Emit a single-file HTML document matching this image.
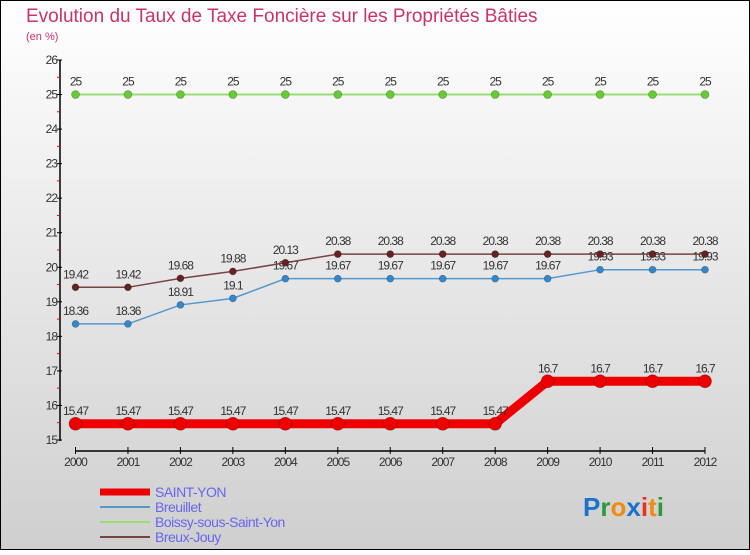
<!DOCTYPE html>
<html><head><meta charset="utf-8"><style>
body{margin:0;width:750px;height:550px;overflow:hidden;font-family:"Liberation Sans",sans-serif}
svg text{font-family:"Liberation Sans",sans-serif}
</style></head><body>
<svg id="c" width="750" height="550" xmlns="http://www.w3.org/2000/svg">
<defs><linearGradient id="bg" x1="0" y1="0" x2="0" y2="1"><stop offset="0" stop-color="#ffffff"/><stop offset="1" stop-color="#cfcfcf"/></linearGradient></defs>
<rect x="0.5" y="0.5" width="749" height="549" fill="url(#bg)" stroke="#000"/>
<text x="26" y="22" font-size="19" fill="#cc3366">Evolution du Taux de Taxe Foncière sur les Propriétés Bâties</text>
<text x="26" y="40" font-size="11" fill="#cc3366">(en %)</text>
<g id="axes"></g>
<g id="series"></g>
<g id="legend"></g>
<text x="583" y="516" font-size="26" font-weight="bold"><tspan fill="#1a73c9">P</tspan><tspan fill="#2a9a3a">r</tspan><tspan fill="#f08a10">o</tspan><tspan fill="#1a73c9">x</tspan><tspan fill="#e83020">i</tspan><tspan fill="#f08a10">t</tspan><tspan fill="#2a9a3a">i</tspan></text>
</svg>
<script>
const years=[2000,2001,2002,2003,2004,2005,2006,2007,2008,2009,2010,2011,2012];
const yTicks=[15,16,17,18,19,20,21,22,23,24,25,26];
const saintYon=[15.47,15.47,15.47,15.47,15.47,15.47,15.47,15.47,15.47,16.7,16.7,16.7,16.7];
const breuillet=[18.36,18.36,18.91,19.1,19.67,19.67,19.67,19.67,19.67,19.67,19.93,19.93,19.93];
const boissy=[25,25,25,25,25,25,25,25,25,25,25,25,25];
const breux=[19.42,19.42,19.68,19.88,20.13,20.38,20.38,20.38,20.38,20.38,20.38,20.38,20.38];
const NS="http://www.w3.org/2000/svg";
const xS=i=>75.5+i*(705-75.5)/(years.length-1);
const yS=v=>440-(v-15)*(440-60)/11;
function mk(tag,attrs,parent,txt){const e=document.createElementNS(NS,tag);for(const k in attrs)e.setAttribute(k,attrs[k]);if(txt!==undefined)e.textContent=txt;parent.appendChild(e);return e;}
const ax=document.getElementById('axes');
let e=mk('line',{x1:60,y1:60,x2:60,y2:441,stroke:'#000','stroke-width':1.5},ax);


yTicks.forEach(t=>{
 const y=yS(t);
 mk('line',{x1:57,y1:y,x2:62,y2:y,stroke:'#000'},ax);
 if(t<26) mk('line',{x1:57,y1:y-17.3,x2:60,y2:y-17.3,stroke:'#f00'},ax);
 e=mk('text',{x:57,y:y+4,'font-size':12,'text-anchor':'end',fill:'#333','letter-spacing':'-1'},ax,String(t));
 
 
});
e=mk('line',{x1:75.5,y1:451,x2:705,y2:451,stroke:'#000','stroke-width':1.5},ax);


years.forEach((yr,i)=>{
 const x=xS(i);
 mk('line',{x1:x,y1:447,x2:x,y2:454,stroke:'#000'},ax);
 e=mk('text',{x:x,y:466,'font-size':12,'text-anchor':'middle',fill:'#333','letter-spacing':'-1'},ax,String(yr));
 
 
});
const sg=document.getElementById('series');
function series(vals,color,lw,r,dot,name){
 const g=mk('g',{},sg);
 
 
 const p=mk('polyline',{points:vals.map((v,i)=>xS(i)+','+yS(v)).join(' '),fill:'none',stroke:color,'stroke-width':lw},g);
 
 
 vals.forEach((v,i)=>{
  const c=mk('circle',{cx:xS(i),cy:yS(v),r:r,fill:dot,stroke:'rgba(0,0,0,0.3)','stroke-width':0.7},g);
  
  
  const t=mk('text',{x:xS(i),y:yS(v)-9,'font-size':12,'text-anchor':'middle',fill:'#333','letter-spacing':'-1'},g,String(v));
  
  
 });
}
series(boissy,'#99dd77',2,4,'#66cc33','boissy');
series(breuillet,'#5599cc',1.5,3.5,'#3388cc','breuillet');
series(breux,'#774444',1.5,3.5,'#662222','breux-jouy');
series(saintYon,'#ee0000',9,6.5,'#ee0000','saint-yon');
const lg=document.getElementById('legend');
const leg=[['SAINT-YON','#ee0000',7],['Breuillet','#5599cc',2],['Boissy-sous-Saint-Yon','#99dd77',2],['Breux-Jouy','#774444',2]];
leg.forEach((l,i)=>{
 const y=492+i*15;
 const g=mk('g',{},lg);
 
 
 mk('line',{x1:100,y1:y,x2:150,y2:y,stroke:l[1],'stroke-width':l[2]},g);
 mk('text',{x:155,y:y+5,'font-size':14,fill:'#6666ee','letter-spacing':'-0.5'},g,l[0]);
});
</script>
</body></html>
